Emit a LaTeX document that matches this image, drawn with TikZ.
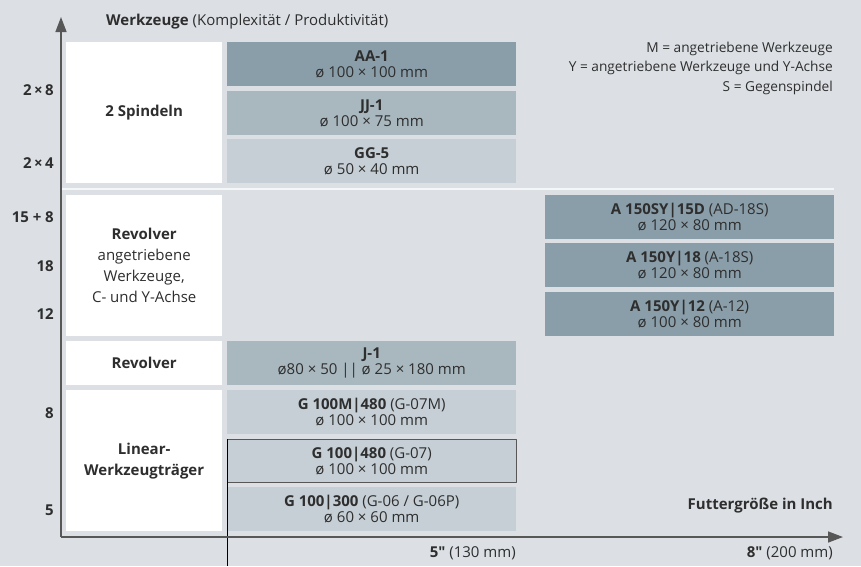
\documentclass[tikz,border=0pt]{standalone}
\usepackage{fontspec}
\newfontfamily\diagfont{Open Sans}
\usetikzlibrary{arrows.meta}
\definecolor{bg}{HTML}{DCE0E4}
\definecolor{darkbox}{HTML}{8A9EAA}
\definecolor{midbox}{HTML}{A9B8BF}
\definecolor{lightbox}{HTML}{C5CFD5}
\definecolor{txt}{HTML}{2E2E2E}
\definecolor{axisgray}{HTML}{575757}
\tikzset{
  box/.style={anchor=north west, inner sep=0pt, align=center, minimum width=289pt, minimum height=44pt,
    font=\diagfont\fontsize{15}{16}\selectfont},
  group/.style={anchor=north west, inner sep=0pt, align=center, minimum width=156pt, fill=white,
    font=\diagfont\fontsize{15}{21}\selectfont},
  tick/.style={anchor=east, inner sep=0pt, font=\diagfont\fontsize{15}{16}\selectfont\bfseries}
}
\begin{document}
\begin{tikzpicture}[x=1pt, y=-1pt, line join=round, text=txt, font=\diagfont\fontsize{15}{16}\selectfont,
  >={Triangle[length=15pt,width=11pt]}]
\fill[bg] (0,0) rectangle (861,566);
\useasboundingbox (0,0) rectangle (861,566);

% left column
\node[group, minimum height=141pt] (spindeln) at (66,42) {\textbf{2 Spindeln}};
\node[group, minimum height=141pt] (revolverY) at (66,195) {\textbf{Revolver}\\angetriebene\\Werkzeuge,\\C- und Y-Achse};
\node[group, minimum height=44pt] (revolver) at (66,341) {\textbf{Revolver}};
\node[group, minimum height=141pt] (linear) at (66,390) {\textbf{Linear-}\\\textbf{Werkzeugträger}};

% middle column
\node[box, fill=darkbox] (aa1) at (227,42) {\textbf{AA-1}\\ø 100 × 100 mm};
\node[box, fill=midbox] (jj1) at (227,91) {\textbf{JJ-1}\\ø 100 × 75 mm};
\node[box, fill=lightbox] (gg5) at (227,139) {\textbf{GG-5}\\ø 50 × 40 mm};
\node[box, fill=midbox] (j1) at (227,341) {\textbf{J-1}\\ø80 × 50 || ø 25 × 180 mm};
\node[box, fill=lightbox] (g07m) at (227,390) {\textbf{G 100M|480} (G-07M)\\ø 100 × 100 mm};
\node[box, fill=lightbox, minimum height=43pt] (g07) at (227,439) {\textbf{G 100|480} (G-07)\\ø 100 × 100 mm};
\node[box, fill=lightbox] (g06) at (227,487) {\textbf{G 100|300} (G-06 / G-06P)\\ø 60 × 60 mm};

% right column
\node[box, fill=darkbox] (a18s) at (545,195) {\textbf{A 150SY|15D} (AD-18S)\\ø 120 × 80 mm};
\node[box, fill=darkbox] (a18) at (545,243) {\textbf{A 150Y|18} (A-18S)\\ø 120 × 80 mm};
\node[box, fill=darkbox] (a12) at (545,292) {\textbf{A 150Y|12} (A-12)\\ø 100 × 80 mm};

% separator
\draw[white!70!bg, line width=2.5pt] (61,189) -- (834,189);

% highlighted machine
\draw[axisgray, line width=1pt] (g07.north west) rectangle (g07.south east);
\draw[black, line width=1pt] (g07.north west) -- (227,566);

% axes
\coordinate (O) at (61,537);
\coordinate (ytop) at (61,17);
\coordinate (xend) at (843,537);
\draw[axisgray, line width=1.5pt, ->] (O) -- (ytop);
\draw[axisgray, line width=1.5pt, ->] (O) -- (xend);

\foreach \lab/\ypos in {2\,×\,8/90, 2\,×\,4/163, 15 + 8/217, 18/266, 12/314, 8/413, 5/510}
  \node[tick] at (54,\ypos) {\lab};

% texts
\node[anchor=west, inner sep=0pt] (title) at (106,22) {\textbf{Werkzeuge} (Komplexität / Produktivität)};
\node[anchor=east, inner sep=0pt, align=right, font=\diagfont\fontsize{13.7}{19.5}\selectfont] (legend) at (833,68)
  {M = angetriebene Werkzeuge\\Y = angetriebene Werkzeuge und Y-Achse\\S = Gegenspindel};
\node[anchor=east, inner sep=0pt] (xtitle) at (833,506) {\textbf{Futtergröße in Inch}};
\node[anchor=east, inner sep=0pt] (x5) at (516,553) {\textbf{5"} (130 mm)};
\node[anchor=east, inner sep=0pt] (x8) at (833,553) {\textbf{8"} (200 mm)};
\end{tikzpicture}
\end{document}
